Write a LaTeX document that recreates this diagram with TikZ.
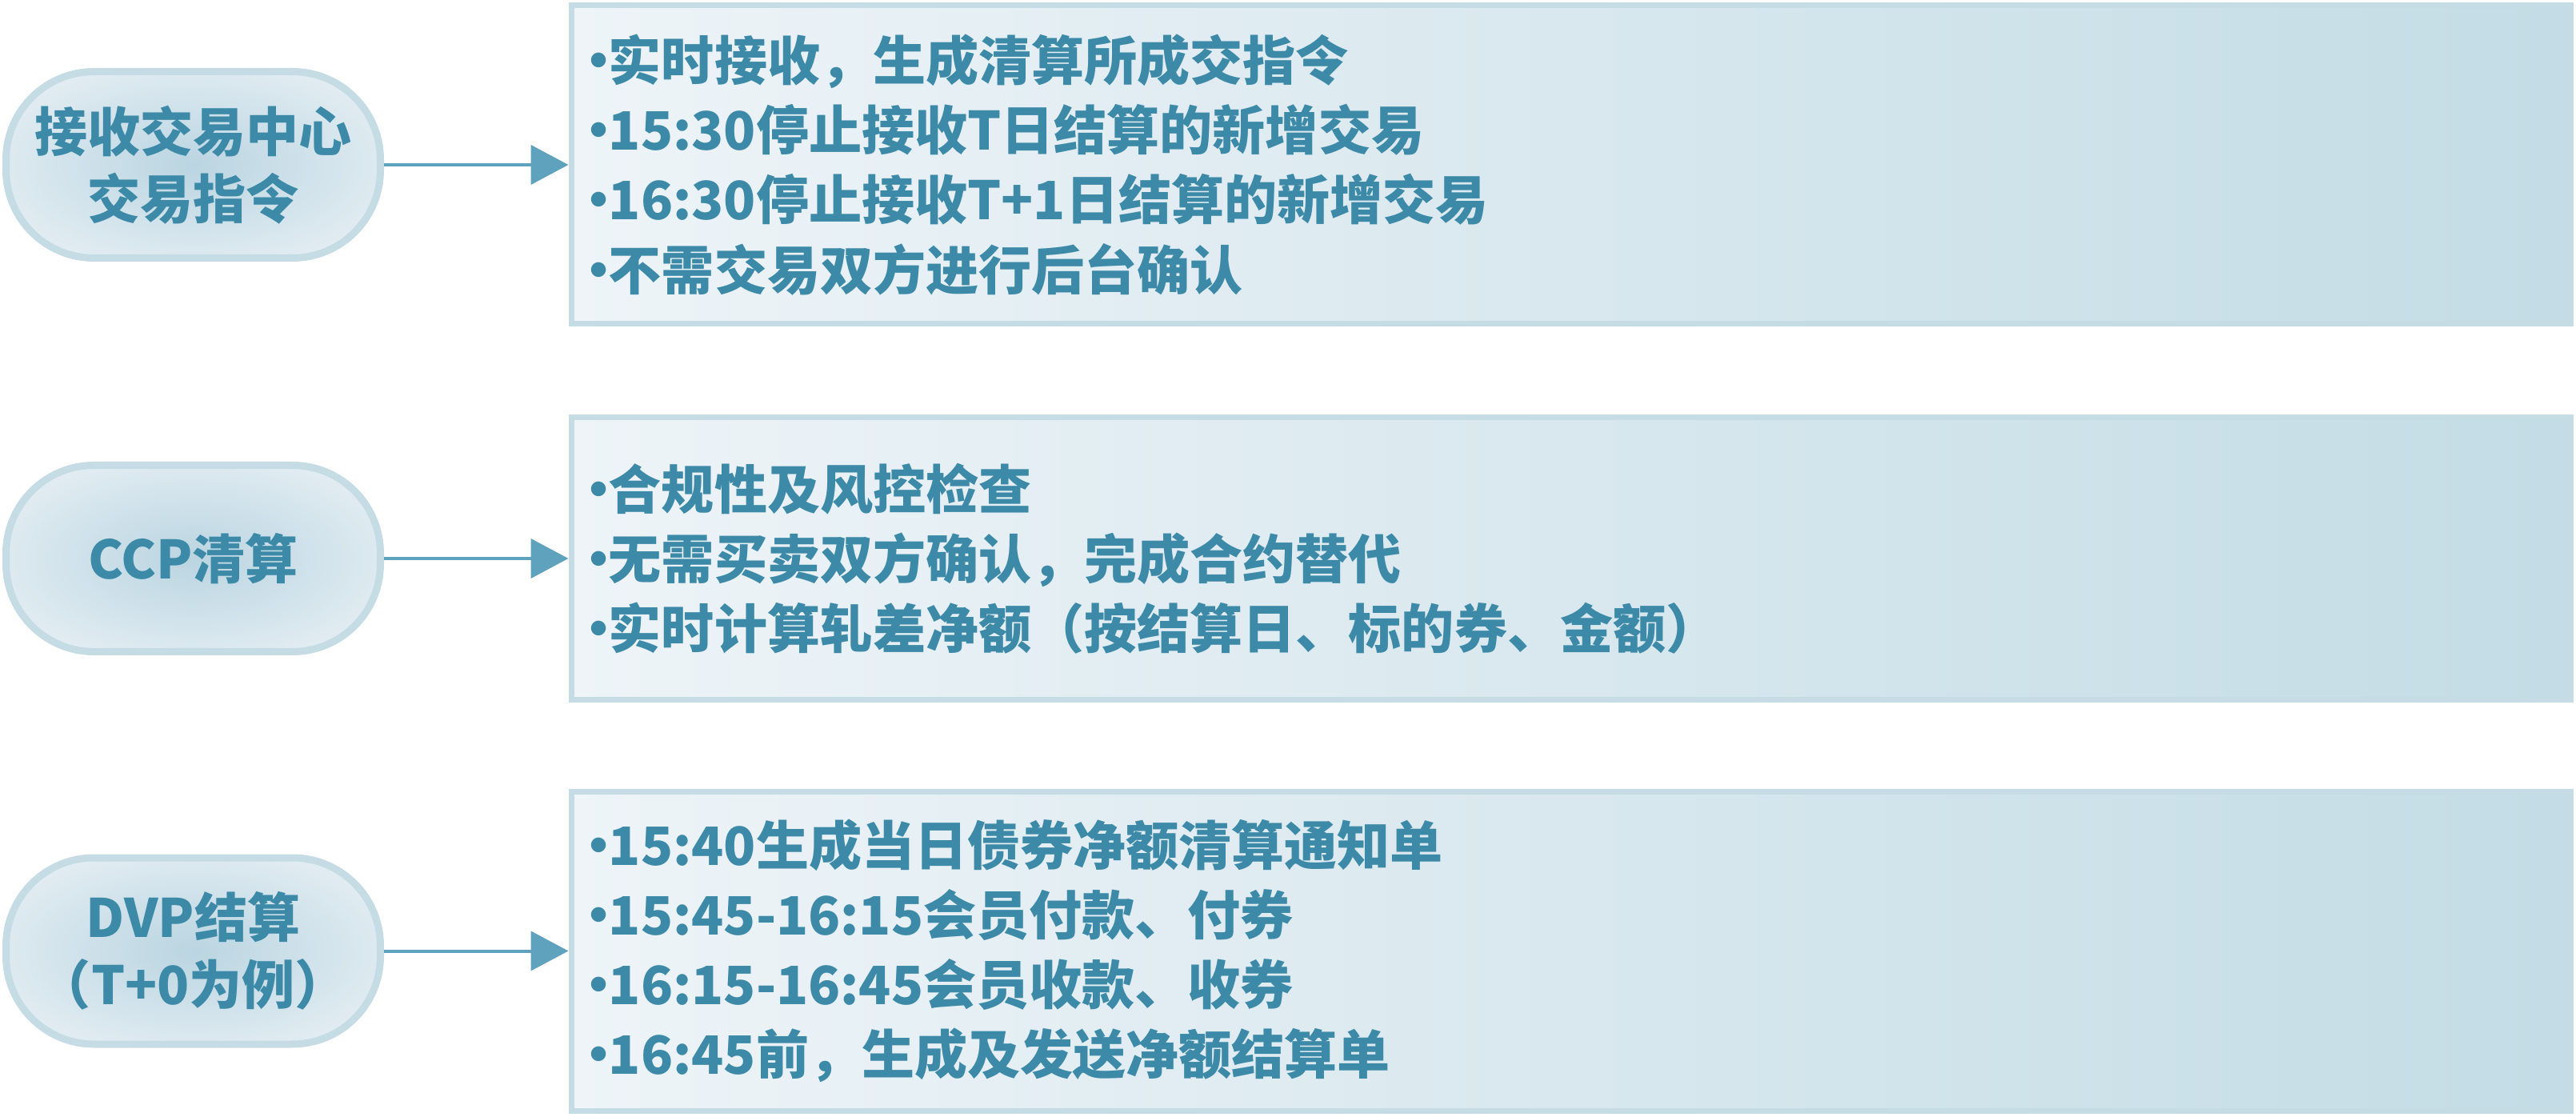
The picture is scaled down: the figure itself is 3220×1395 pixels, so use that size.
\documentclass[tikz,border=0pt]{standalone}
\usepackage{fontspec}
\setmainfont{Noto Sans CJK SC}
\usepackage{xcolor}
\usetikzlibrary{shapes.misc, positioning, arrows.meta}

\definecolor{txtblue}{RGB}{60,138,168}
\definecolor{arrowblue}{RGB}{95,162,190}
\definecolor{boxline}{RGB}{197,220,228}
\definecolor{boxlight}{RGB}{238,244,248}
\definecolor{boxdark}{RGB}{195,220,229}
\definecolor{pillin}{RGB}{186,213,225}
\definecolor{pillout}{RGB}{242,246,249}
\pgfdeclareradialshading{pillshade}{\pgfpoint{0bp}{0bp}}{color(0bp)=(pillin); color(40bp)=(pillout); color(50bp)=(pillout)}

\newcommand{\dotitem}{\makebox[0.36em][c]{•}}

\begin{document}
\begin{tikzpicture}[x=0.1mm, y=0.1mm,
	pill/.style={rectangle, rounded corners=11mm, draw=boxline, line width=0.9mm,
		shade, shading=pillshade, minimum width=46.8mm, minimum height=23.3mm,
		text=txtblue, font=\bfseries\fontsize{18.8}{23.9}\selectfont, align=center, inner sep=0pt},
	infobox/.style={rectangle, draw=boxline, line width=0.7mm, left color=boxlight, right color=boxdark,
		text width=245.3mm, inner xsep=2.3mm, inner ysep=0pt, align=left,
		text=txtblue, font=\bfseries\fontsize{18.8}{24.8}\selectfont},
	link/.style={draw=arrowblue, line width=0.4mm, -{Triangle[length=4.7mm, width=4.9mm]}}]
	\useasboundingbox (0,0) rectangle (3220,1395);

	\node (recv) [pill] at (241.5,1189) {接收交易中心\\交易指令};
	\node (ccp) [pill] at (241.5,697) {CCP清算};
	\node (dvp) [pill] at (241.5,206.5) {DVP结算\\（T+0为例）};

	\node (recvbox) [infobox, minimum height=39.8mm] at (1963.5,1189) {\dotitem 实时接收，生成清算所成交指令\\\dotitem 15:30停止接收T日结算的新增交易\\\dotitem 16:30停止接收T+1日结算的新增交易\\\dotitem 不需交易双方进行后台确认};
	\node (ccpbox) [infobox, minimum height=35.3mm] at (1963.5,697) {\dotitem 合规性及风控检查\\\dotitem 无需买卖双方确认，完成合约替代\\\dotitem 实时计算轧差净额（按结算日、标的券、金额）};
	\node (dvpbox) [infobox, minimum height=39.9mm] at (1963.5,206.5) {\dotitem 15:40生成当日债券净额清算通知单\\\dotitem 15:45-16:15会员付款、付券\\\dotitem 16:15-16:45会员收款、收券\\\dotitem 16:45前，生成及发送净额结算单};

	\draw [link] (recv) -- (recvbox);
	\draw [link] (ccp) -- (ccpbox);
	\draw [link] (dvp) -- (dvpbox);
\end{tikzpicture}
\end{document}
